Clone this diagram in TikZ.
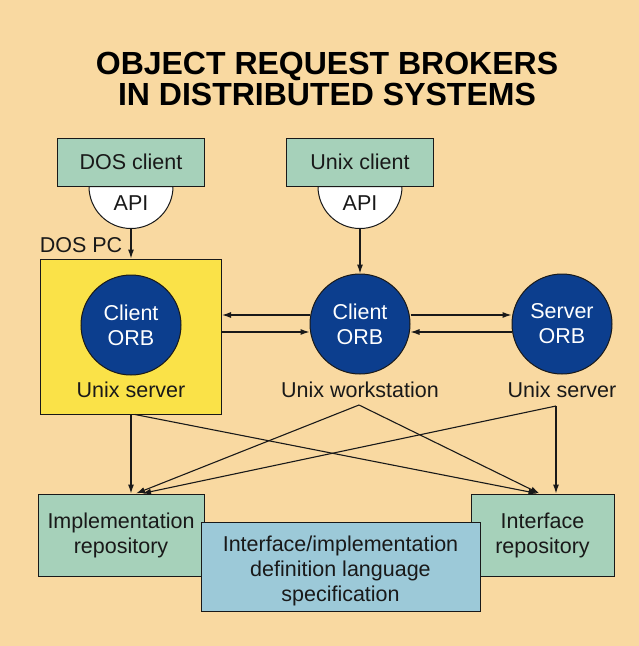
\documentclass[tikz,border=0pt]{standalone}
\usepackage{fontspec}
\setmainfont{Liberation Sans}
\usepackage{xcolor}
\usetikzlibrary{arrows.meta, positioning, calc}
\definecolor{paper}{RGB}{249,217,161}
\definecolor{boxgreen}{RGB}{166,209,186}
\definecolor{boxblue}{RGB}{156,201,216}
\definecolor{pcyellow}{RGB}{250,226,72}
\definecolor{orbblue}{RGB}{12,62,142}
\definecolor{ink}{RGB}{25,25,25}

\begin{document}
\begin{tikzpicture}[x=1pt, y=-1pt, line width=1pt,
    every node/.style={font=\fontsize{21.5}{25}\selectfont, text=ink},
    box/.style={draw=ink, fill=boxgreen, inner sep=0pt, align=center},
    orb/.style={circle, draw=ink, fill=orbblue, text=white, minimum size=100pt, inner sep=0pt, align=center},
    arr/.style={-{Latex[length=9pt, width=6pt]}, draw=ink, line width=1.1pt}]
    \fill[paper] (0,0) rectangle (639,646);
    \useasboundingbox (0,0) rectangle (639,646);
    \node[font=\fontsize{32}{30.5}\selectfont\bfseries, align=center, text=black] (title) at (327,79)
        {OBJECT REQUEST BROKERS\\IN DISTRIBUTED SYSTEMS};

    % clients and their API
    \node[box, minimum width=147pt, minimum height=48pt] (dosclient) at (131,162) {DOS client};
    \node[box, minimum width=147pt, minimum height=48pt] (unixclient) at (360,162) {Unix client};
    \filldraw[fill=white, draw=ink] ([xshift=-42pt]dosclient.south) arc[start angle=180, end angle=360, radius=42pt] -- cycle;
    \filldraw[fill=white, draw=ink] ([xshift=-42pt]unixclient.south) arc[start angle=180, end angle=360, radius=42pt] -- cycle;
    \node (dosapi) at ($(dosclient.south)+(0,17)$) {API};
    \node (unixapi) at ($(unixclient.south)+(0,17)$) {API};
    \coordinate (dosapitip) at ($(dosclient.south)+(0,42)$);
    \coordinate (unixapitip) at ($(unixclient.south)+(0,42)$);

    % machines
    \node[anchor=west] (dospclabel) at (36,245) {DOS PC};
    \node[draw=ink, fill=pcyellow, minimum width=181pt, minimum height=155pt] (dospc) at (131,336.5) {};
    \node[orb] (corbdos) at (131,325) {Client\\ORB};
    \node (dosserver) at (131,390) {Unix server};
    \node[orb] (corbws) at (360,324) {Client\\ORB};
    \node[orb] (sorb) at (562,324) {Server\\ORB};
    \node (wslabel) at (360,390) {Unix workstation};
    \node (svlabel) at (562,390) {Unix server};

    \draw[arr] (dosapitip) -- (dospc.north);
    \draw[arr] (unixapitip) -- (corbws.north);

    \coordinate (wsup) at ([yshift=9pt]corbws.west);
    \coordinate (wsdn) at ([yshift=-8pt]corbws.west);
    \coordinate (svup) at ([yshift=9pt]sorb.west);
    \coordinate (svdn) at ([yshift=-8pt]sorb.west);
    \draw[arr] (wsup) -- (wsup -| dospc.east);
    \draw[arr] (wsdn -| dospc.east) -- (wsdn);
    \draw[arr] (svup -| corbws.east) -- (svup);
    \draw[arr] (svdn) -- (svdn -| corbws.east);

    % repositories
    \node[box, minimum width=166pt, minimum height=82pt] (implrep) at (121,535) {Implementation\\repository};
    \node[box, minimum width=143pt, minimum height=82pt] (intfrep) at (542.5,535) {Interface\\repository};
    \node[box, fill=boxblue, minimum width=279pt, minimum height=89pt] (idl) at (340.5,566.5) {};
    \node[align=center] (idltext) at (340.5,571) {Interface/implementation\\definition language\\specification};

    \coordinate (wsfoot) at (359,405);
    \coordinate (svfoot) at (556,406);
    \draw[arr] (dospc.south) -- (dospc.south |- implrep.north);
    \draw[arr] ([xshift=4pt]dospc.south) -- ([xshift=-5pt]intfrep.north);
    \draw[arr] (wsfoot) -- ([xshift=15pt]implrep.north);
    \draw[arr] (wsfoot) -- ([xshift=-3pt]intfrep.north);
    \draw[arr] (svfoot) -- ([xshift=21pt]implrep.north);
    \draw[arr] (svfoot) -- (svfoot |- intfrep.north);
\end{tikzpicture}
\end{document}
